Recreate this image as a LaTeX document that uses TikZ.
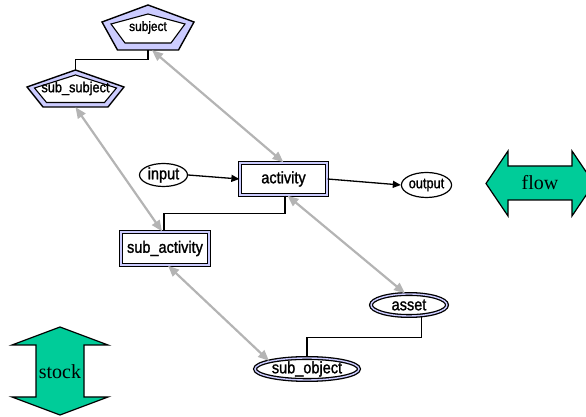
\documentclass[tikz,border=0pt]{standalone}
\usepackage{fontspec}
\setmainfont{Liberation Serif}
\setsansfont{Liberation Sans}
\newfontfamily\nar[FakeStretch=0.88,FakeBold=1.4]{Liberation Sans}
\usetikzlibrary{arrows.meta,backgrounds,calc,shapes.geometric}
\definecolor{lav}{RGB}{204,204,255}
\definecolor{grn}{RGB}{0,204,153}
\definecolor{gry}{RGB}{180,180,180}
\tikzset{
  lbl/.style={font=\nar\fontsize{16.5}{16.5}\selectfont, inner sep=0pt},
  dblrect/.style={lbl, rectangle, draw=black, line width=1.3pt, double=lav, double distance=1.4pt},
  dblell/.style={lbl, ellipse, draw=black, line width=1.3pt, double=lav, double distance=1.4pt},
  sglell/.style={lbl, ellipse, draw=black, line width=1.2pt},
  pentbox/.style={lbl, rectangle},
  pentout/.style={draw=black, line width=1.4pt, fill=lav, line join=miter},
  pentin/.style={draw=black, line width=1.1pt, fill=white, line join=miter},
  conn/.style={draw=black, line width=1.3pt},
  barrow/.style={draw=black, line width=1.3pt, -{Triangle[length=8pt,width=7pt]}},
  garrow/.style={draw=gry, line width=2.2pt, {Triangle[length=11pt,width=9pt]}-{Triangle[length=11pt,width=9pt]}},
  bigarrow/.style={draw=black, line width=1.2pt, fill=grn, line join=miter},
  serifl/.style={font=\rmfamily\fontsize{20}{20}\selectfont, inner sep=0pt}
}
\begin{document}
\begin{tikzpicture}[x=1pt,y=1pt]
\useasboundingbox (0,0) rectangle (586,417);

% nodes
\node[pentbox, font=\nar\fontsize{13.5}{13.5}\selectfont, minimum width=92pt, minimum height=45pt] (subject) at (148,389.5) {\raisebox{-3.5pt}{subject}};
\node[pentbox, font=\nar\fontsize{14.5}{14.5}\selectfont, minimum width=97pt, minimum height=37pt] (sub_subject) at (75.5,328.5) {\raisebox{-2.5pt}{sub\_subject}};
\node[dblrect, minimum width=87pt, minimum height=32pt] (activity) at (283.5,238) {activity};
\node[dblrect, minimum width=88pt, minimum height=33pt] (sub_activity) at (165,168.5) {sub\_activity};
\node[sglell, minimum width=48pt, minimum height=23pt] (input) at (163.5,242) {input};
\node[sglell, font=\nar\fontsize{14.5}{14.5}\selectfont, minimum width=40pt, minimum height=25pt] (output) at (426.5,232) {output};
\node[dblell, minimum width=76pt, minimum height=22pt] (asset) at (409,112) {asset};
\node[dblell, minimum width=104pt, minimum height=22pt] (sub_object) at (307,48) {sub\_object};

% pentagon shapes behind text
\begin{scope}[on background layer]
  \begin{scope}[shift={(subject.center)}]
    \draw[pentout] (0,22.5) -- (46,5.5) -- (30.5,-22.5) -- (-30.5,-22.5) -- (-46,5.5) -- cycle;
    \draw[pentin] (0,13.5) -- (37,3.5) -- (23,-15.5) -- (-23,-15.5) -- (-37,3.5) -- cycle;
  \end{scope}
  \begin{scope}[shift={(sub_subject.center)}]
    \draw[pentout] (0,18.5) -- (48.5,1.5) -- (32.5,-18.5) -- (-32.5,-18.5) -- (-48.5,1.5) -- cycle;
    \draw[pentin] (0,13.5) -- (41,0.5) -- (29,-14) -- (-29,-14) -- (-41,0.5) -- cycle;
  \end{scope}
\end{scope}

% black connectors
\draw[conn] (subject.south) -- ++(0,-9) -| (sub_subject.north);
\draw[conn] ([xshift=1.5pt]activity.south) -- ++(0,-18) -| ([xshift=-1pt]sub_activity.north);
\draw[conn] (asset.-41) |- ([yshift=20pt]sub_object.north) -- (sub_object.north);

% black arrows
\draw[barrow] (input.east) -- (activity.west);
\draw[barrow] (activity.east) -- (output.west);

% grey double arrows
\draw[garrow] ([xshift=4pt]subject.south) -- (activity.north);
\draw[garrow] (sub_subject.south) -- ([xshift=-3pt]sub_activity.north);
\draw[garrow] ([xshift=4pt]activity.south) -- ([xshift=-4pt]asset.north);
\draw[garrow] ([xshift=3pt]sub_activity.south) -- (sub_object.168);

% flow arrow
\draw[bigarrow] (486,233.5) -- (508,266) -- (508,251) -- (572,251) -- (572,266) -- (594,233.5)
  -- (572,201) -- (572,217) -- (508,217) -- (508,201) -- cycle;
\node[serifl] (flow) at (540,234) {flow};

% stock arrow
\draw[bigarrow] (60,90) -- (108,72) -- (84,72) -- (84,20) -- (108,20) -- (60,2)
  -- (12,20) -- (36,20) -- (36,72) -- (12,72) -- cycle;
\node[serifl] (stock) at (60,45) {stock};
\end{tikzpicture}
\end{document}
